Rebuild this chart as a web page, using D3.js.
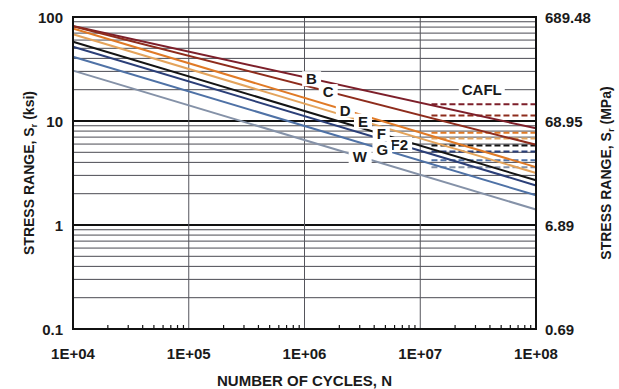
<!DOCTYPE html>
<html lang="en">
<head>
    <meta charset="utf-8">
    <title>S-N curves</title>
    <script src="https://cdn.jsdelivr.net/npm/d3@7/dist/d3.min.js"></script>
    <style>
        body { margin: 0; background: #fff; }
        text { font-family: "Liberation Sans", Arial, sans-serif; fill: #1a1a1a; }
    </style>
</head>
<body>
    <div id="chart"></div>
    <script>
        // detail categories and their design curves (ksi)
        const categories = ["B", "C", "D", "E", "F", "F2", "G", "W"];
        const stressAt1e4 = [81.9, 81.6, 77.4, 68.2, 57.9, 51.8, 41.5, 30.5];
        const stressAt1e8 = [8.5, 5.9, 3.6, 3.16, 2.69, 2.40, 1.93, 1.41];
        // constant amplitude fatigue limits (ksi)
        const cafl = [14.5, 11.3, 7.7, 6.8, 5.8, 5.1, 4.2, 3.6];
        // cycles where the category letter sits on its line
        const labelCycles = [1.15e6, 1.6e6, 2.25e6, 3.2e6, 4.6e6, 6.6e6, 4.7e6, 3.0e6];
        const colors = ["#7d1f2a", "#8e2c1c", "#e07a26", "#e4a45c", "#141414", "#2b3f78", "#4f72a6", "#8592a8"];

        const xTicks = [1e4, 1e5, 1e6, 1e7, 1e8];
        const xTickLabels = ["1E+04", "1E+05", "1E+06", "1E+07", "1E+08"];
        const yTicks = [0.1, 1, 10, 100];
        const yTickLabels = ["0.1", "1", "10", "100"];
        const mpaTickLabels = ["0.69", "6.89", "68.95", "689.48"];

        const width = 619, height = 389;
        const margin = {left: 73, right: 83, top: 17, bottom: 60};

        const svg = d3.select("#chart").append("svg")
            .attr("width", width)
            .attr("height", height);

        const x = d3.scaleLog().domain([1e4, 1e8]).range([margin.left, width - margin.right]);
        const y = d3.scaleLog().domain([0.1, 100]).range([height - margin.bottom, margin.top]);

        // minor values 2..9 in each decade
        const minorY = [];
        [0.1, 1, 10].forEach(d => d3.range(2, 10).forEach(k => minorY.push(d * k)));
        const minorX = [];
        [1e4, 1e5, 1e6, 1e7].forEach(d => d3.range(2, 10).forEach(k => minorX.push(d * k)));

        const grid = svg.append("g");
        grid.selectAll(".minor")
            .data(minorY)
            .enter().append("line")
            .attr("x1", x(1e4)).attr("x2", x(1e8))
            .attr("y1", d => y(d)).attr("y2", d => y(d))
            .attr("stroke", "#4a4a52")
            .attr("stroke-width", 1);
        grid.selectAll(".major")
            .data([1, 10])
            .enter().append("line")
            .attr("x1", x(1e4)).attr("x2", x(1e8))
            .attr("y1", d => y(d)).attr("y2", d => y(d))
            .attr("stroke", "#111")
            .attr("stroke-width", 2);
        grid.selectAll(".vert")
            .data(xTicks.slice(1, -1))
            .enter().append("line")
            .attr("x1", d => x(d)).attr("x2", d => x(d))
            .attr("y1", y(100)).attr("y2", y(0.1))
            .attr("stroke", "#55555c")
            .attr("stroke-width", 1);

        // small ticks along the bottom edge
        svg.append("g").selectAll("line")
            .data(minorX)
            .enter().append("line")
            .attr("x1", d => x(d)).attr("x2", d => x(d))
            .attr("y1", y(0.1)).attr("y2", y(0.1) - 4)
            .attr("stroke", "#111")
            .attr("stroke-width", 1.2);

        // CAFL dashed lines
        svg.append("g").selectAll("line")
            .data(cafl)
            .enter().append("line")
            .attr("x1", x(1.25e7)).attr("x2", x(1e8))
            .attr("y1", d => y(d)).attr("y2", d => y(d))
            .attr("stroke", (d, i) => colors[i])
            .attr("stroke-width", 2)
            .attr("stroke-dasharray", "6,3");

        // S-N lines
        const line = d3.line().x(d => x(d[0])).y(d => y(d[1]));
        svg.append("g").selectAll("path")
            .data(categories)
            .enter().append("path")
            .attr("d", (d, i) => line([[1e4, stressAt1e4[i]], [1e8, stressAt1e8[i]]]))
            .attr("fill", "none")
            .attr("stroke", (d, i) => colors[i])
            .attr("stroke-width", 2);

        // stress on a curve at n cycles (straight in log-log)
        function stressAt(i, n) {
            const t = (Math.log10(n) - 4) / 4;
            return Math.pow(10, Math.log10(stressAt1e4[i]) + t * (Math.log10(stressAt1e8[i]) - Math.log10(stressAt1e4[i])));
        }

        function boxedLabel(g, txt, px, py, padX, padY) {
            const t = g.append("text")
                .attr("x", px).attr("y", py)
                .attr("text-anchor", "middle")
                .attr("dominant-baseline", "central")
                .attr("font-size", 15)
                .attr("font-weight", "bold")
                .text(txt);
            const b = t.node().getBBox();
            g.insert("rect", "text")
                .attr("x", b.x - padX).attr("y", b.y - padY)
                .attr("width", b.width + 2 * padX).attr("height", b.height + 2 * padY)
                .attr("fill", "#fff");
        }

        const labels = svg.append("g");
        categories.forEach((c, i) => {
            const g = labels.append("g");
            boxedLabel(g, c, x(labelCycles[i]), y(stressAt(i, labelCycles[i])), 4, -1);
        });
        boxedLabel(labels.append("g"), "CAFL", x(3.4e7), y(20), 3, 0);

        // frame
        svg.append("rect")
            .attr("x", x(1e4)).attr("y", y(100))
            .attr("width", x(1e8) - x(1e4)).attr("height", y(0.1) - y(100))
            .attr("fill", "none")
            .attr("stroke", "#111")
            .attr("stroke-width", 2);

        // tick labels
        svg.append("g").selectAll("text")
            .data(xTicks)
            .enter().append("text")
            .attr("x", d => x(d)).attr("y", y(0.1) + 30)
            .attr("text-anchor", "middle")
            .attr("font-size", 15).attr("font-weight", "bold")
            .text((d, i) => xTickLabels[i]);
        svg.append("g").selectAll("text")
            .data(yTicks)
            .enter().append("text")
            .attr("x", x(1e4) - 10).attr("y", d => y(d) + 6)
            .attr("text-anchor", "end")
            .attr("font-size", 15).attr("font-weight", "bold")
            .text((d, i) => yTickLabels[i]);
        svg.append("g").selectAll("text")
            .data(yTicks)
            .enter().append("text")
            .attr("x", x(1e8) + 9).attr("y", d => y(d) + 6)
            .attr("text-anchor", "start")
            .attr("font-size", 15).attr("font-weight", "bold")
            .text((d, i) => mpaTickLabels[i]);

        // axis titles
        svg.append("text")
            .attr("x", (x(1e4) + x(1e8)) / 2).attr("y", height - 3)
            .attr("text-anchor", "middle")
            .attr("font-size", 15).attr("font-weight", "bold")
            .text("NUMBER OF CYCLES, N");

        function yTitle(px, unit) {
            const t = svg.append("text")
                .attr("transform", `translate(${px},${(y(100) + y(0.1)) / 2}) rotate(-90)`)
                .attr("text-anchor", "middle")
                .attr("font-size", 14).attr("font-weight", "bold");
            t.append("tspan").text("STRESS RANGE, S");
            t.append("tspan").attr("font-size", 9.5).attr("dy", 3).text("r");
            t.append("tspan").attr("dy", -3).text(" (" + unit + ")");
        }
        yTitle(34, "ksi");
        yTitle(611, "MPa");
    </script>
</body>
</html>
